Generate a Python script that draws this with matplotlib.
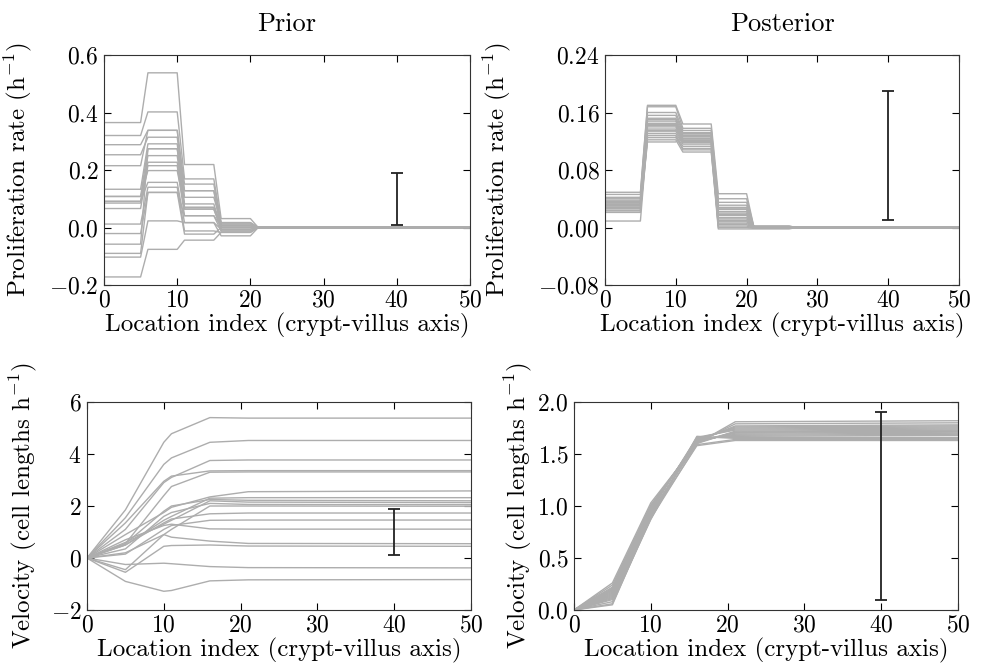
"""
Prior vs posterior proliferation-rate and velocity profiles along the
crypt-villus axis (2x2 panel figure, LaTeX-like styling).
"""

import numpy as np
import matplotlib
matplotlib.use("Agg")
import matplotlib.pyplot as plt  # noqa: E402

plt.rcParams.update({
    "font.family": "serif",
    "font.serif": ["cmr10"],
    "mathtext.fontset": "cm",
    "axes.formatter.use_mathtext": True,
    "axes.unicode_minus": True,
    "xtick.direction": "in",
    "ytick.direction": "in",
    "xtick.top": True,
    "ytick.right": True,
    "xtick.major.size": 5,
    "ytick.major.size": 5,
    "xtick.major.pad": 3,
    "ytick.major.pad": 4,
    "font.size": 17,
})

LINE = "0.68"
LABEL_SIZE = 18

# --------------------------------------------------------------------------- #
# data
# --------------------------------------------------------------------------- #
# proliferation: piecewise-constant blocks, each level held between two knots
PROLIF_X = [0, 5, 6, 10, 11, 15, 16, 20, 21, 26, 27, 50]

prior_prolif = [   # block levels: cells 0-5, 6-10, 11-15, 16-20, 21-26, rest
    [0.365, 0.538, 0.219, 0.031, 0.002, 0.0],
    [0.320, 0.402, 0.169, 0.017, 0.001, 0.0],
    [0.288, 0.338, 0.151, 0.012, 0.001, 0.0],
    [0.253, 0.314, 0.128, 0.006, 0.000, 0.0],
    [0.215, 0.338, 0.105, 0.017, 0.001, 0.0],
    [0.133, 0.291, 0.082, 0.000, 0.000, 0.0],
    [0.108, 0.274, 0.070, 0.006, 0.000, 0.0],
    [0.091, 0.250, 0.064, -0.006, 0.000, 0.0],
    [0.085, 0.227, 0.064, 0.000, 0.000, 0.0],
    [0.066, 0.215, 0.041, -0.012, -0.001, 0.0],
    [0.108, 0.198, 0.070, 0.012, 0.001, 0.0],
    [0.091, 0.157, 0.017, -0.006, 0.000, 0.0],
    [0.012, 0.140, -0.012, -0.017, -0.001, 0.0],
    [-0.021, 0.122, -0.023, 0.000, 0.000, 0.0],
    [-0.058, 0.274, 0.128, -0.012, -0.001, 0.0],
    [-0.090, 0.122, 0.041, 0.006, 0.000, 0.0],
    [-0.103, 0.023, 0.017, -0.029, -0.002, 0.0],
    [-0.172, -0.076, -0.044, -0.017, -0.001, 0.0],
]

post_prolif = [
    [0.049, 0.170, 0.144, 0.047, 0.002, 0.0],
    [0.046, 0.168, 0.138, 0.040, 0.002, 0.0],
    [0.042, 0.160, 0.135, 0.035, 0.001, 0.0],
    [0.040, 0.156, 0.132, 0.031, 0.001, 0.0],
    [0.038, 0.152, 0.130, 0.028, 0.001, 0.0],
    [0.036, 0.148, 0.128, 0.025, 0.001, 0.0],
    [0.035, 0.145, 0.126, 0.022, 0.000, 0.0],
    [0.033, 0.142, 0.124, 0.020, 0.000, 0.0],
    [0.032, 0.140, 0.122, 0.017, 0.000, 0.0],
    [0.031, 0.137, 0.120, 0.014, 0.000, 0.0],
    [0.030, 0.134, 0.118, 0.012, 0.000, 0.0],
    [0.028, 0.131, 0.116, 0.010, 0.000, 0.0],
    [0.027, 0.128, 0.113, 0.008, 0.000, 0.0],
    [0.026, 0.125, 0.110, 0.006, -0.001, 0.0],
    [0.024, 0.122, 0.105, 0.004, -0.001, 0.0],
    [0.023, 0.119, 0.127, 0.002, -0.001, 0.0],
    [0.021, 0.150, 0.121, 0.000, -0.001, 0.0],
    [0.036, 0.143, 0.119, 0.026, 0.000, 0.0],
    [0.030, 0.135, 0.131, 0.018, 0.000, 0.0],
    [0.009, 0.128, 0.108, -0.002, -0.002, 0.0],
]

# velocity: values at the kinks
PRIOR_VEL_X = [0, 5, 10, 11, 16, 21, 50]
prior_vel = [
    [0, 1.85, 4.45, 4.78, 5.40, 5.38, 5.38],
    [0, 1.55, 3.60, 3.85, 4.45, 4.52, 4.52],
    [0, 1.10, 2.90, 3.10, 3.75, 3.77, 3.77],
    [0, 1.35, 2.95, 3.15, 3.35, 3.36, 3.36],
    [0, 0.55, 2.40, 2.75, 3.30, 3.31, 3.31],
    [0, 0.90, 1.75, 1.95, 2.35, 2.55, 2.58],
    [0, 0.50, 1.45, 1.60, 2.30, 2.32, 2.32],
    [0, 0.55, 1.80, 2.00, 2.25, 2.22, 2.20],
    [0, 0.60, 1.30, 1.45, 2.20, 2.15, 2.13],
    [0, 0.35, 1.60, 1.75, 2.10, 2.06, 2.05],
    [0, 0.20, 0.90, 1.10, 2.00, 2.00, 1.99],
    [0, 0.50, 1.35, 1.50, 1.70, 1.73, 1.73],
    [0, 0.15, 1.10, 1.25, 1.45, 1.46, 1.46],
    [0, 0.70, 1.25, 1.30, 1.12, 1.11, 1.11],
    [0, -0.45, 0.90, 0.80, 0.65, 0.56, 0.55],
    [0, -0.55, 0.45, 0.48, 0.50, 0.46, 0.45],
    [0, -0.25, -0.20, -0.22, -0.33, -0.37, -0.38],
    [0, -0.90, -1.28, -1.25, -0.88, -0.84, -0.83],
]

POST_VEL_X = [0, 5, 10, 16, 21, 50]
post_vel = [
    [0, 0.26, 1.03, 1.60, 1.81, 1.82],
    [0, 0.24, 1.01, 1.61, 1.79, 1.80],
    [0, 0.22, 1.00, 1.62, 1.77, 1.78],
    [0, 0.20, 0.98, 1.63, 1.76, 1.77],
    [0, 0.19, 0.97, 1.64, 1.75, 1.76],
    [0, 0.18, 0.96, 1.65, 1.74, 1.75],
    [0, 0.17, 0.95, 1.66, 1.73, 1.74],
    [0, 0.16, 0.94, 1.60, 1.72, 1.73],
    [0, 0.15, 0.93, 1.61, 1.71, 1.72],
    [0, 0.14, 0.92, 1.62, 1.70, 1.71],
    [0, 0.13, 0.91, 1.63, 1.69, 1.70],
    [0, 0.12, 0.90, 1.64, 1.68, 1.69],
    [0, 0.11, 0.89, 1.65, 1.67, 1.68],
    [0, 0.10, 0.88, 1.66, 1.66, 1.66],
    [0, 0.08, 0.87, 1.67, 1.65, 1.65],
    [0, 0.06, 0.88, 1.59, 1.64, 1.64],
    [0, 0.05, 0.90, 1.58, 1.63, 1.63],
    [0, 0.21, 0.99, 1.62, 1.71, 1.72],
]

# reference scale bars (x position, bottom, top)
BAR_X = 40
PROLIF_BAR = (0.01, 0.19)
VEL_BAR = (0.1, 1.9)


def step_profile(levels):
    """hold each block level between its two knots"""
    return np.repeat(levels, 2)


def draw_bar(ax, lo, hi):
    mid = 0.5 * (lo + hi)
    ax.errorbar([BAR_X], [mid], yerr=[[mid - lo], [hi - mid]], fmt="none",
                ecolor="#222222", elinewidth=1.3, capsize=4, capthick=1.3,
                zorder=5)


# --------------------------------------------------------------------------- #
fig = plt.figure(figsize=(9.84, 6.70), dpi=100)
W, H = 984.0, 670.0


def add_axes(left, right, top, bottom):
    return fig.add_axes([left / W, 1 - bottom / H, (right - left) / W,
                         (bottom - top) / H])


ax_tl = add_axes(104, 470, 55, 285)
ax_tr = add_axes(605, 959, 55, 285)
ax_bl = add_axes(87, 471, 402, 610)
ax_br = add_axes(574, 958, 402, 610)

for lv in prior_prolif:
    ax_tl.plot(PROLIF_X, step_profile(lv), color=LINE, lw=1.0)
for lv in post_prolif:
    ax_tr.plot(PROLIF_X, step_profile(lv), color=LINE, lw=1.0)
for v in prior_vel:
    ax_bl.plot(PRIOR_VEL_X, v, color=LINE, lw=1.0)
for v in post_vel:
    ax_br.plot(POST_VEL_X, v, color=LINE, lw=1.0)

draw_bar(ax_tl, *PROLIF_BAR)
draw_bar(ax_tr, *PROLIF_BAR)
draw_bar(ax_bl, *VEL_BAR)
draw_bar(ax_br, *VEL_BAR)

ax_tl.set_ylim(-0.2, 0.6)
ax_tl.set_yticks([-0.2, 0.0, 0.2, 0.4, 0.6])
ax_tr.set_ylim(-0.08, 0.24)
ax_tr.set_yticks([-0.08, 0.0, 0.08, 0.16, 0.24])
ax_bl.set_ylim(-2, 6)
ax_bl.set_yticks([-2, 0, 2, 4, 6])
ax_br.set_ylim(0, 2)
ax_br.set_yticks([0.0, 0.5, 1.0, 1.5, 2.0])

for ax, pad in ((ax_tl, 1), (ax_tr, 1), (ax_bl, 1), (ax_br, 1)):
    ax.set_xlim(0, 50)
    ax.set_xticks([0, 10, 20, 30, 40, 50])
    ax.set_xlabel("Location index (crypt-villus axis)", fontsize=LABEL_SIZE,
                  labelpad=pad)
    for s in ax.spines.values():
        s.set_color("#333333")

ax_tl.set_ylabel(r"Proliferation rate (h$^{-1}$)", fontsize=LABEL_SIZE)
ax_tr.set_ylabel(r"Proliferation rate (h$^{-1}$)", fontsize=LABEL_SIZE)
ax_bl.set_ylabel(r"Velocity (cell lengths h$^{-1}$)", fontsize=LABEL_SIZE)
ax_br.set_ylabel(r"Velocity (cell lengths h$^{-1}$)", fontsize=LABEL_SIZE)
# right edge of each rotated y label, in axes fractions
ax_tl.yaxis.set_label_coords(-0.19, 0.5)
ax_tr.yaxis.set_label_coords(-0.26, 0.5)
ax_bl.yaxis.set_label_coords(-0.125, 0.5)
ax_br.yaxis.set_label_coords(-0.105, 0.5)

ax_tl.set_title("Prior", fontsize=19, pad=17)
ax_tr.set_title("Posterior", fontsize=19, pad=17)

fig.savefig("out.png", dpi=100)
